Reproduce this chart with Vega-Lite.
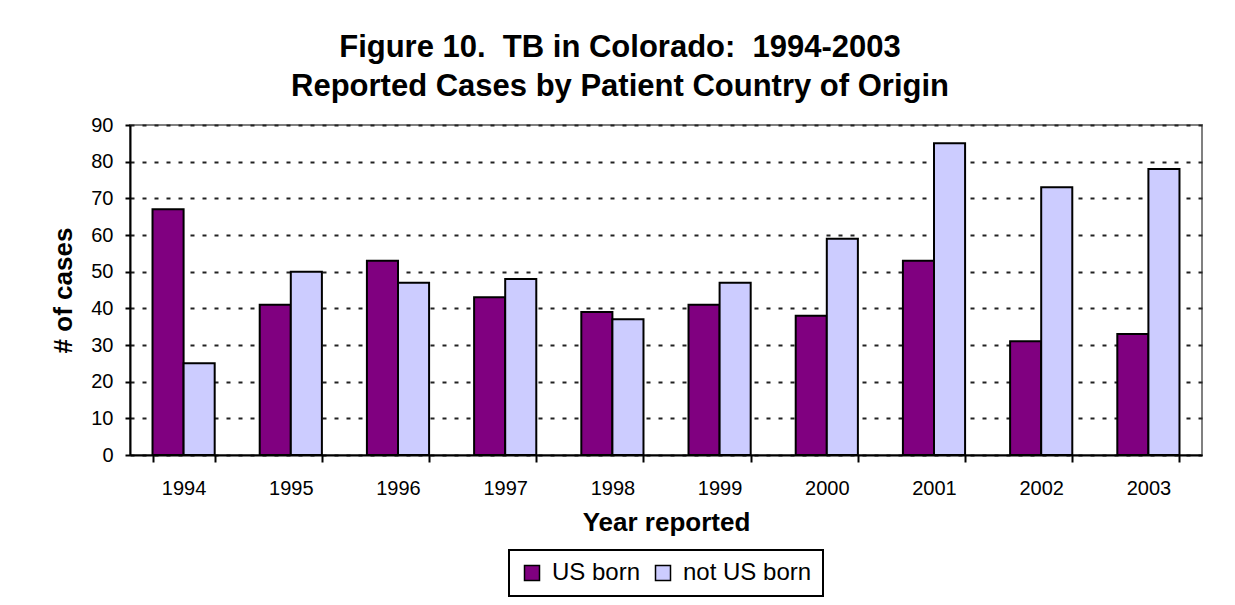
{
  "$schema": "https://vega.github.io/schema/vega-lite/v6.json",
  "width": 1072,
  "height": 330,
  "autosize": {"type": "none"},
  "padding": {"left": 130, "top": 125, "right": 33, "bottom": 150},
  "background": "white",
  "title": {
    "text": ["Figure 10.\u00a0 TB in Colorado:\u00a0 1994-2003", "Reported Cases by Patient Country of Origin"],
    "font": "Liberation Sans",
    "fontSize": 31,
    "fontWeight": "bold",
    "color": "black",
    "anchor": "middle",
    "lineHeight": 39,
    "offset": 12,
    "dx": -46
  },
  "config": {
    "view": {"stroke": "#808080", "strokeWidth": 2},
    "font": "Liberation Sans",
    "legend": {"strokeWidth": 2}
  },
  "data": {
    "values": [
      {"year": "1994", "origin": "US born", "cases": 67},
      {"year": "1994", "origin": "not US born", "cases": 25},
      {"year": "1995", "origin": "US born", "cases": 41},
      {"year": "1995", "origin": "not US born", "cases": 50},
      {"year": "1996", "origin": "US born", "cases": 53},
      {"year": "1996", "origin": "not US born", "cases": 47},
      {"year": "1997", "origin": "US born", "cases": 43},
      {"year": "1997", "origin": "not US born", "cases": 48},
      {"year": "1998", "origin": "US born", "cases": 39},
      {"year": "1998", "origin": "not US born", "cases": 37},
      {"year": "1999", "origin": "US born", "cases": 41},
      {"year": "1999", "origin": "not US born", "cases": 47},
      {"year": "2000", "origin": "US born", "cases": 38},
      {"year": "2000", "origin": "not US born", "cases": 59},
      {"year": "2001", "origin": "US born", "cases": 53},
      {"year": "2001", "origin": "not US born", "cases": 85},
      {"year": "2002", "origin": "US born", "cases": 31},
      {"year": "2002", "origin": "not US born", "cases": 73},
      {"year": "2003", "origin": "US born", "cases": 33},
      {"year": "2003", "origin": "not US born", "cases": 78}
    ]
  },
  "mark": {"type": "bar", "stroke": "black", "strokeWidth": 2},
  "encoding": {
    "x": {
      "field": "year",
      "type": "ordinal",
      "scale": {"paddingInner": 0.42, "paddingOuter": 0.21},
      "axis": {
        "title": "Year reported",
        "titleFont": "Liberation Sans",
        "titleFontSize": 26,
        "titleFontWeight": "bold",
        "titleColor": "black",
        "titlePadding": 11,
        "labelFont": "Liberation Sans",
        "labelFontSize": 20,
        "labelColor": "black",
        "labelAngle": 0,
        "labelPadding": 16,
        "tickBand": "extent",
        "tickSize": 7,
        "tickColor": "black",
        "tickWidth": 2,
        "domainColor": "black",
        "domainWidth": 2,
        "grid": false
      }
    },
    "xOffset": {"field": "origin", "sort": ["US born", "not US born"]},
    "y": {
      "field": "cases",
      "type": "quantitative",
      "scale": {"domain": [0, 90]},
      "axis": {
        "title": "# of cases",
        "titleFont": "Liberation Sans",
        "titleFontSize": 26,
        "titleFontWeight": "bold",
        "titleColor": "black",
        "titlePadding": 14,
        "labelFont": "Liberation Sans",
        "labelFontSize": 20,
        "labelColor": "black",
        "labelPadding": 12,
        "values": [0, 10, 20, 30, 40, 50, 60, 70, 80, 90],
        "tickSize": 5,
        "tickColor": "black",
        "tickWidth": 2,
        "domainColor": "black",
        "domainWidth": 2,
        "grid": true,
        "gridColor": "#222222",
        "gridWidth": 2,
        "gridDash": [4, 8]
      }
    },
    "color": {
      "field": "origin",
      "type": "nominal",
      "scale": {"domain": ["US born", "not US born"], "range": ["#800080", "#CCCCFF"]},
      "legend": {
        "title": null,
        "orient": "none",
        "legendX": 379,
        "legendY": 425,
        "direction": "horizontal",
        "strokeColor": "black",
        "fillColor": "white",
        "padding": 11,
        "symbolType": "square",
        "symbolSize": 225,
        "symbolStrokeColor": "black",
        "symbolStrokeWidth": 1.5,
        "labelFont": "Liberation Sans",
        "labelFontSize": 24,
        "labelColor": "black",
        "labelOffset": 8,
        "columnPadding": 10
      }
    }
  }
}
